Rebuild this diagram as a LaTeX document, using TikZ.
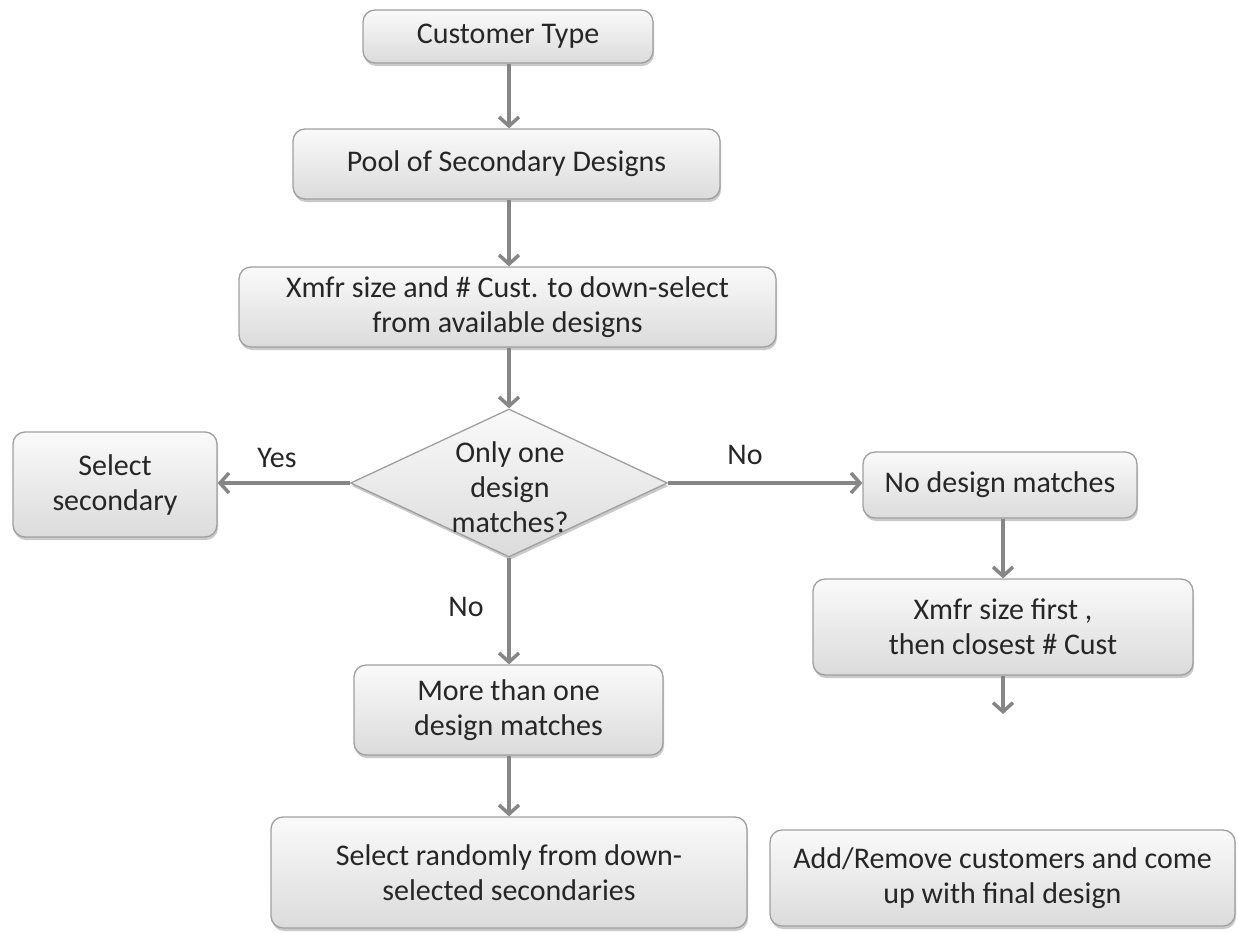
\documentclass[tikz,border=0pt]{standalone}
\usepackage{fontspec}
\setmainfont{Carlito}
\usetikzlibrary{shapes.geometric,arrows.meta,shadows}
\begin{document}
\begin{tikzpicture}[x=1pt,y=-1pt,
  txt/.style={font=\fontsize{30}{35}\selectfont, text=black!85, align=center},
  boxshape/.style={txt, rectangle, rounded corners=12pt, draw=gray!75, line width=1.3pt,
    top color=gray!4, bottom color=gray!28, inner sep=0pt,
    drop shadow={shadow xshift=1pt, shadow yshift=-3pt, opacity=0.35, fill=black!60}},
  decshape/.style={diamond, draw=gray!75, line width=1.3pt, inner sep=0pt,
    top color=gray!4, bottom color=gray!28,
    drop shadow={shadow xshift=1pt, shadow yshift=-3pt, opacity=0.35, fill=black!60}},
  arr/.style={draw=gray!95, line width=3.5pt, -{Straight Barb[length=9pt,width=20pt,line width=3.5pt]}},
  lbl/.style={txt}
]
\useasboundingbox (0,0) rectangle (1238,932);

\node[boxshape, minimum width=290pt, minimum height=53pt] (b1) at (508,36.5) {Customer Type};
\node[boxshape, minimum width=427pt, minimum height=70pt] (b2) at (506.5,164) {Pool of Secondary Designs};
\node[boxshape, minimum width=537pt, minimum height=80pt] (b3) at (507.5,307) {Xmfr size and \# Cust. to down-select\\from available designs};
\node[decshape, minimum width=317pt, minimum height=148pt, aspect=2.14] (dec) at (509,483) {};
\node[txt] (dectext) at (510,487) {Only one\\design\\matches?};
\node[boxshape, minimum width=204pt, minimum height=105pt] (sel) at (115,484.5) {Select\\secondary};
\node[boxshape, minimum width=274pt, minimum height=66pt] (nod) at (1000,485) {No design matches};
\node[boxshape, minimum width=380pt, minimum height=96pt] (xf) at (1003,627) {Xmfr size first ,\\then closest \# Cust};
\node[boxshape, minimum width=309pt, minimum height=90pt] (more) at (508.5,710) {More than one\\design matches};
\node[boxshape, minimum width=476pt, minimum height=111pt] (rand) at (509,872.5) {Select randomly from down-\\selected secondaries};
\node[boxshape, minimum width=465pt, minimum height=96pt] (add) at (1002.5,878) {Add/Remove customers and come\\up with final design};
\coordinate (xfend) at (1003,714);

\node[lbl] (yes) at (277,458) {Yes};
\node[lbl] (no1) at (745,455) {No};
\node[lbl] (no2) at (466,607) {No};

\draw[arr] (b1.south -| dec.north) -- (b2.north -| dec.north);
\draw[arr] (b2.south -| dec.north) -- (b3.north -| dec.north);
\draw[arr] (b3.south -| dec.north) -- (dec.north);
\draw[arr] (dec.west) -- (sel.east |- dec.west);
\draw[arr] (dec.east) -- (nod.west |- dec.east);
\draw[arr] (dec.south) -- (more.north -| dec.south);
\draw[arr] (more.south -| dec.south) -- (rand.north -| dec.south);
\draw[arr] (nod.south -| xf.north) -- (xf.north);
\draw[arr] (xf.south) -- (xfend);
\end{tikzpicture}
\end{document}
